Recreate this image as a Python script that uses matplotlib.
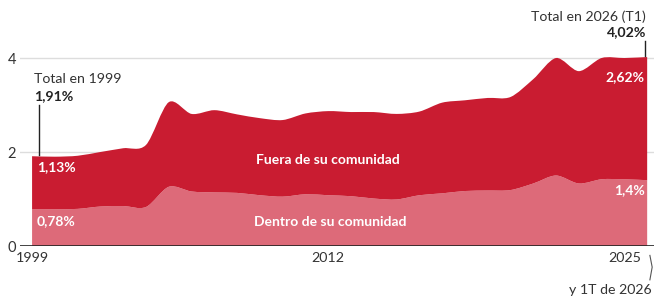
import numpy as np
import matplotlib
matplotlib.use("Agg")
from matplotlib import pyplot as plt
from matplotlib.path import Path
from matplotlib.patches import PathPatch

# years (2026 = first quarter only)
years = list(range(1999, 2027))
dentro = [0.78, 0.78, 0.79, 0.84, 0.85, 0.83, 1.26, 1.16, 1.14, 1.13, 1.08, 1.05, 1.10, 1.08,
          1.06, 1.01, 0.99, 1.08, 1.12, 1.17, 1.18, 1.19, 1.33, 1.50, 1.33, 1.42, 1.42, 1.40]
total = [1.91, 1.90, 1.92, 2.00, 2.08, 2.15, 3.06, 2.81, 2.89, 2.80, 2.72, 2.68, 2.82, 2.87,
         2.85, 2.85, 2.81, 2.86, 3.05, 3.10, 3.15, 3.17, 3.55, 4.00, 3.72, 4.00, 4.00, 4.02]
fuera = [round(t - d, 2) for t, d in zip(total, dentro)]
xtick_years = [1999, 2012, 2025]
ytick_vals = [0, 2, 4]

dark_red = "#c91c31"
light_red = "#dd6a79"
text_col = "#333333"

plt.rcParams['font.family'] = ['Lato', 'DejaVu Sans']


def curve(xs, ys):
    # cubic bezier segments through the points (catmull-rom style)
    pts = np.column_stack([xs, ys])
    n = len(pts)
    verts = [pts[0]]
    for i in range(n - 1):
        p0 = pts[i - 1] if i > 0 else pts[i]
        p3 = pts[i + 2] if i + 2 < n else pts[i + 1]
        c1 = pts[i] + (pts[i + 1] - p0) / 6 * 0.9
        c2 = pts[i + 1] - (p3 - pts[i]) / 6 * 0.9
        verts += [c1, c2, pts[i + 1]]
    return verts


def band(xs, lo, hi):
    top = curve(xs, hi)
    bot = curve(xs[::-1], lo[::-1])
    verts = top + bot + [top[0]]
    codes = ([Path.MOVETO] + [Path.CURVE4] * (len(top) - 1)
             + [Path.LINETO] + [Path.CURVE4] * (len(bot) - 1) + [Path.CLOSEPOLY])
    return Path(verts, codes)


fig = plt.figure(figsize=(6.54, 2.98), dpi=100)
ax = fig.add_axes([20 / 654, 52 / 298, 634 / 654, 211.5 / 298])

x = np.array(years, dtype=float)
d = np.array(dentro)
t = d + np.array(fuera)
ax.add_patch(PathPatch(band(x, np.zeros_like(d), d), facecolor=light_red, lw=0, zorder=2))
ax.add_patch(PathPatch(band(x, d, t), facecolor=dark_red, lw=0, zorder=2))

ax.set_xlim(1998.47, 2026.3)
ax.set_ylim(0, 4.5)

for v in [2, 4]:
    ax.axhline(v, color="#dddddd", lw=1, zorder=1)
ax.axhline(0, color="#222222", lw=1.2, zorder=3)

for s in ax.spines.values():
    s.set_visible(False)
ax.set_yticks(ytick_vals)
ax.set_yticklabels([str(v) for v in ytick_vals], fontsize=10.5, color=text_col)
ax.tick_params(axis="y", length=0, pad=3)
ax.set_xticks(xtick_years)
ax.set_xticklabels([str(v) for v in xtick_years], fontsize=10.3, color=text_col)
ax.tick_params(axis="x", length=0, pad=4)
ax.get_xticklabels()[0].set_x(1999.1)

# series labels
lab = dict(color="white", fontsize=10, fontweight="bold", va="center", zorder=4)
ax.text(1999.2, 1.68, "1,13%", **lab)
ax.text(1999.2, 0.53, "0,78%", **lab)
ax.text(2025.9, 3.6, "2,62%", ha="right", **lab)
ax.text(2025.9, 1.19, "1,4%", ha="right", **lab)
ax.text(2012, 1.84, "Fuera de su comunidad", ha="center", **lab)
ax.text(2012.1, 0.52, "Dentro de su comunidad", ha="center", **lab)

# totals
ax.text(1999.1, 3.55, "Total en 1999", color=text_col, fontsize=10.2, va="center")
ax.text(1999.1, 3.2, "1,91%", color="#222222", fontsize=10.2, fontweight="bold", va="center")
ax.plot([1999.3, 1999.3], [1.93, 3.0], color="#222222", lw=1, zorder=4)

ax.text(2025.95, 4.88, "Total en 2026 (T1)", color=text_col, fontsize=10.2,
        ha="right", va="center", clip_on=False)
ax.text(2025.95, 4.56, "4,02%", color="#222222", fontsize=10.2, fontweight="bold",
        ha="right", va="center", clip_on=False)
ax.plot([2025.9, 2025.9], [4.05, 4.36], color="#222222", lw=1, zorder=4, clip_on=False)

# footnote bracket
ax.plot([2026.12, 2026.22, 2026.12], [-0.2, -0.45, -0.72], color="#555555", lw=0.8,
        clip_on=False)
fig.text(652 / 654, 1 - 290 / 298, "y 1T de 2026", color=text_col, fontsize=10.2,
         ha="right", va="center")

fig.savefig("out.png", dpi=100)
